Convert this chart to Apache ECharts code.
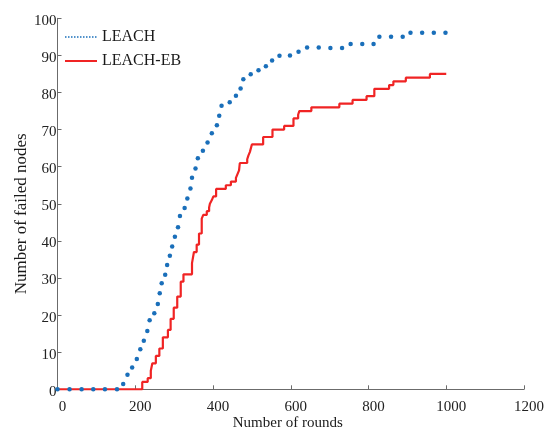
<!DOCTYPE html>
<html>
<head>
<meta charset="utf-8">
<script src="https://cdn.jsdelivr.net/npm/echarts@6/dist/echarts.min.js"></script>
<style>
  html, body { margin: 0; padding: 0; background: #fff; }
  #chart { width: 553px; height: 437px; }
</style>
</head>
<body>
<div id="chart"></div>
<script>
// Failed nodes over time for the two clustering protocols.

// LEACH: sampled points along the curve, [round, failed nodes]
const leachPoints = [
  [0, 0], [31, 0], [62, 0], [92, 0], [122, 0], [153, 0],
  [169, 1.4], [180, 3.9], [192, 5.9], [204, 8.2], [213, 10.8], [222, 13.1],
  [231, 15.7], [237, 18.6], [249, 20.5], [258, 23.0], [263, 25.9], [268, 28.6],
  [277, 30.9], [282, 33.5], [289, 36.0], [295, 38.5], [302, 41.1], [310, 43.7],
  [315, 46.7], [327, 48.9], [334, 51.4], [342, 54.1], [346, 57.0], [355, 59.5],
  [361, 62.3], [374, 64.3], [386, 66.5], [397, 69.0], [410, 71.2], [416, 73.7],
  [422, 76.4], [443, 77.4], [459, 79.1], [471, 81.1], [478, 83.6], [497, 84.9],
  [517, 86.0], [536, 87.1], [552, 88.6], [571, 89.9], [598, 90.0], [620, 91.0],
  [642, 92.1], [672, 92.1], [702, 92.0], [732, 92.0], [754, 93.1], [784, 93.1],
  [813, 93.1], [828, 95.0], [858, 95.0], [888, 95.0], [908, 96.1], [938, 96.1],
  [968, 96.1], [998, 96.1]
];

// LEACH-EB: [round at which the count changes, failed nodes from then on]
const leachEbSteps = [
  [0, 0], [218, 2], [232, 3], [240, 5], [244, 7], [253, 9], [262, 11],
  [271, 14], [284, 16], [291, 19], [299, 22], [308, 25], [317, 29], [324, 31],
  [346, 34], [351, 37], [358, 39], [364, 42], [371, 46], [375, 47], [384, 48],
  [390, 49], [392, 50], [397, 51], [401, 52], [408, 54], [433, 55], [446, 56],
  [459, 57], [463, 58], [467, 59], [469, 61], [488, 62], [491, 63], [495, 64],
  [500, 66], [529, 68], [553, 70], [583, 71], [607, 73], [619, 74], [622, 75],
  [653, 76], [725, 77], [759, 78], [795, 79], [815, 81], [853, 82], [864, 83],
  [896, 84], [958, 85], [1000, 85]
];

const seriesNames = ['LEACH', 'LEACH-EB'];
const xAxisTitle = 'Number of rounds';
const yAxisTitle = 'Number of failed nodes';

const blue = '#1a6fba';
const red = '#f02424';
const axisGrey = '#6b6b6b';
const serif = '"Liberation Serif", "DejaVu Serif", serif';

const chart = echarts.init(document.getElementById('chart'), null, { renderer: 'canvas' });

chart.setOption({
  animation: false,
  backgroundColor: '#ffffff',
  grid: {
    left: 57.5, right: 29, top: 18.3, bottom: 47.7,
    containLabel: false,
    outerBoundsMode: 'none'
  },
  legend: {
    orient: 'vertical',
    left: 64,
    top: 29,
    padding: 0,
    itemWidth: 32,
    itemHeight: 14,
    itemGap: 8,
    textStyle: { fontFamily: serif, fontSize: 16, color: '#1a1a1a', lineHeight: 16 },
    data: [
      {
        name: seriesNames[0],
        itemStyle: { opacity: 0 },
        lineStyle: { color: blue, width: 1.5, type: [1.5, 1.5], opacity: 1 }
      },
      {
        name: seriesNames[1],
        itemStyle: { opacity: 0 },
        lineStyle: { color: red, width: 2, type: 'solid', opacity: 1 }
      }
    ]
  },
  xAxis: {
    type: 'value',
    min: 0,
    max: 1200,
    interval: 200,
    name: xAxisTitle,
    nameLocation: 'middle',
    nameGap: 26,
    nameMoveOverlap: false,
    nameTextStyle: { fontFamily: serif, fontSize: 15, color: '#1a1a1a', padding: [0, 6, 0, 0] },
    axisLine: { show: true, lineStyle: { color: axisGrey, width: 1 } },
    axisTick: { show: true, inside: true, length: 4, lineStyle: { color: axisGrey } },
    axisLabel: {
      fontFamily: serif, fontSize: 15, color: '#222', margin: 10, padding: [0, 0, 0, 10],
      formatter: (v) => String(v)
    },
    splitLine: { show: false }
  },
  yAxis: {
    type: 'value',
    min: 0,
    max: 100,
    interval: 10,
    name: yAxisTitle,
    nameLocation: 'middle',
    nameGap: 27,
    nameMoveOverlap: false,
    nameTextStyle: { fontFamily: serif, fontSize: 17, color: '#1a1a1a', padding: [0, 20, 0, 0] },
    axisLine: { show: true, lineStyle: { color: axisGrey, width: 1 } },
    axisTick: { show: true, inside: true, length: 4, lineStyle: { color: axisGrey } },
    axisLabel: {
      fontFamily: serif, fontSize: 15, color: '#222', margin: 1, verticalAlign: 'top',
      padding: [-5, 0, 0, 0],
      formatter: (v) => String(v)
    },
    splitLine: { show: false }
  },
  series: [
    {
      name: seriesNames[1],
      type: 'line',
      step: 'end',
      data: leachEbSteps,
      showSymbol: false,
      symbol: 'none',
      lineStyle: { color: red, width: 2.2 },
      itemStyle: { color: red },
      emphasis: { disabled: true },
      z: 2
    },
    {
      name: seriesNames[0],
      type: 'line',
      data: leachPoints,
      showSymbol: true,
      showAllSymbol: true,
      symbol: 'circle',
      symbolSize: 4.5,
      lineStyle: { color: blue, width: 1, opacity: 0 },
      itemStyle: { color: blue, borderWidth: 0 },
      emphasis: { disabled: true },
      z: 3
    }
  ]
});
</script>
</body>
</html>
